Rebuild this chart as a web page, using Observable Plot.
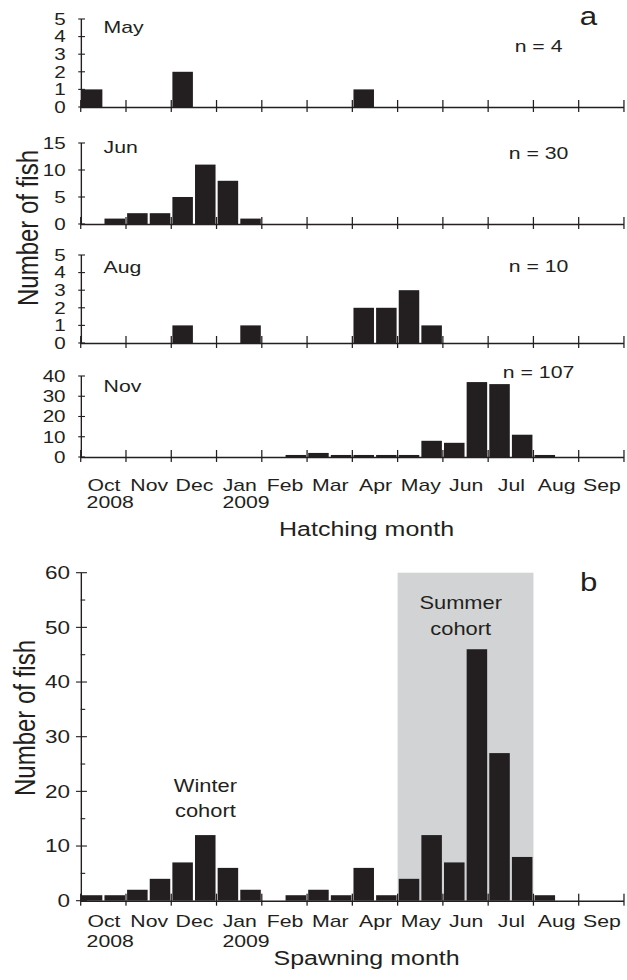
<!DOCTYPE html>
<html>
<head>
<meta charset="utf-8">
<script src="https://cdn.jsdelivr.net/npm/d3@7"></script>
<script src="https://cdn.jsdelivr.net/npm/@observablehq/plot@0.6"></script>
<style>
  html, body { margin: 0; padding: 0; background: #fff; }
  #fig { position: relative; width: 501.6px; height: 980px; transform: scaleX(1.25); transform-origin: 0 0;
         font-family: "Liberation Sans", Arial, Helvetica, sans-serif; color: #231f20; }
  #fig svg { position: absolute; left: 0; overflow: visible; }
  .ytitle { position: absolute; white-space: nowrap; font-size: 24px; line-height: 1;
            transform: translate(-50%, -50%) rotate(-90deg); }
</style>
</head>
<body>
<div id="fig"></div>
<script>
// ---------------- data ----------------
const months = ["Oct", "Nov", "Dec", "Jan", "Feb", "Mar", "Apr", "May", "Jun", "Jul", "Aug", "Sep"];
const years = [{label: "2008", month: "Oct"}, {label: "2009", month: "Jan"}];
// half-month bins: 1st half Oct 2008 ... 2nd half Sep 2009 (24 bins)
const hatchMay = [1,0,0,0,2,0,0,0,0,0,0,0,1,0,0,0,0,0,0,0,0,0,0,0];
const hatchJun = [0,1,2,2,5,11,8,1,0,0,0,0,0,0,0,0,0,0,0,0,0,0,0,0];
const hatchAug = [0,0,0,0,1,0,0,1,0,0,0,0,2,2,3,1,0,0,0,0,0,0,0,0];
const hatchNov = [0,0,0,0,0,0,0,0,0,1,2,1,1,1,1,8,7,37,36,11,1,0,0,0];
const spawning = [1,1,2,4,7,12,6,2,0,1,2,1,6,1,4,12,7,46,27,8,1,0,0,0];
const sampleMonths = ["May", "Jun", "Aug", "Nov"];
const sampleSizes = [4, 30, 10, 107];
const yTicksMay = [0,1,2,3,4,5];
const yTicksJun = [0,5,10,15];
const yTicksAug = [0,1,2,3,4,5];
const yTicksNov = [0,10,20,30,40];
const yTicksB = [0,10,20,30,40,50,60];
const yMinorB = [5,15,25,35,45,55];
const summerCohort = {from: "May", to: "Jul"};

// ---------------- layout ----------------
const INK = "#231f20";
const SHADE = "#d1d3d4";
const FONT = '"Liberation Sans", Arial, Helvetica, sans-serif';
const S = 1.25;                 // horizontal stretch of the original figure
const W = 627 / S;
const AX_L = 80.7 / S, AX_R = 624 / S;
const PX_PER_MONTH = (AX_R - AX_L) / 12;
const fig = document.getElementById("fig");

const bins = vals => vals.map((v, i) => ({start: i / 2, end: i / 2 + 0.5, v})).filter(d => d.v > 0);
const monthEdges = d3.range(months.length + 1);

function panel({top, height, yTop, yBase, yMax, marks}) {
  const ms = marks((yBase - yTop) / yMax);
  const svg = Plot.plot({
    width: W, height,
    marginLeft: AX_L, marginRight: W - AX_R,
    marginTop: yTop - top, marginBottom: top + height - yBase,
    x: {type: "linear", domain: [0, 12], axis: null},
    y: {type: "linear", domain: [0, yMax], axis: null},
    style: {fontFamily: FONT, overflow: "visible", background: "transparent", color: INK},
    marks: ms
  });
  svg.style.top = top + "px";
  fig.appendChild(svg);
}

// ppu: pixels per y unit (to express tick lengths in pixels)
function barsAndAxes(ppu, vals, yMax, ticks, tickFont, tickDx, tickIn, tickOut) {
  return [
    Plot.rect(bins(vals), {x1: "start", x2: "end", y1: 0, y2: "v", fill: INK, insetLeft: 0.9, insetRight: 0.8}),
    Plot.ruleY([0], {stroke: INK, strokeWidth: 1.5}),
    Plot.ruleX([0], {y1: 0, y2: yMax, stroke: INK, strokeWidth: 1.1}),
    // month tick marks crossing the baseline (thin filled rects)
    Plot.rect(monthEdges, {x1: d => d, x2: d => d, y1: () => -5 / ppu, y2: () => 7 / ppu,
                           insetLeft: -0.5, insetRight: -0.5, fill: INK}),
    // y tick marks crossing the axis
    Plot.rect(ticks, {x1: () => -tickOut / PX_PER_MONTH, x2: () => tickIn / PX_PER_MONTH, y1: d => d, y2: d => d,
                      insetTop: -0.55, insetBottom: -0.55, fill: INK}),
    Plot.text(ticks, {x: 0, y: d => d, text: d => String(d), textAnchor: "end", lineAnchor: "middle", dx: tickDx, fontSize: tickFont, fill: INK})
  ];
}

function label(txt, dy) {
  return Plot.text([txt], {text: d => d, frameAnchor: "top-left", dx: 17.8, dy, textAnchor: "start", lineAnchor: "middle", fontSize: 17, fill: INK});
}
function nLabel(n, dy) {
  return Plot.text([`n = ${n}`], {text: d => d, frameAnchor: "top-left", dx: 365.8, dy, textAnchor: "middle", lineAnchor: "middle", fontSize: 17, fill: INK});
}
function monthAxisLabels(dyMonth, dyYear, title, dyTitle) {
  return [
    Plot.text(months, {x: (d, i) => i + 0.5, y: 0, dy: dyMonth, text: d => d, lineAnchor: "middle", fontSize: 17, fill: INK}),
    Plot.text(years, {x: d => months.indexOf(d.month) + 0.5, y: 0, dx: 5, dy: dyYear, text: "label", lineAnchor: "middle", fontSize: 17, fill: INK}),
    Plot.text([title], {x: 6.3, y: 0, dy: dyTitle, text: d => d, lineAnchor: "middle", fontSize: 20, fill: INK})
  ];
}

// ---------------- panel a ----------------
panel({top: 0, height: 115, yTop: 19, yBase: 107, yMax: 5, marks: ppu => [
  ...barsAndAxes(ppu, hatchMay, 5, yTicksMay, 16.5, -12.6, 3.4, 2),
  label(sampleMonths[0], 8),
  nLabel(sampleSizes[0], 27),
  Plot.text(["a"], {text: d => d, frameAnchor: "top-left", dx: 405.8, dy: -3, textAnchor: "middle", lineAnchor: "middle", fontSize: 25, fill: INK})
]});
panel({top: 115, height: 120, yTop: 143, yBase: 224, yMax: 15, marks: ppu => [
  ...barsAndAxes(ppu, hatchJun, 15, yTicksJun, 16.5, -12.6, 3.4, 2),
  label(sampleMonths[1], 4),
  nLabel(sampleSizes[1], 10)
]});
panel({top: 235, height: 115, yTop: 255, yBase: 343, yMax: 5, marks: ppu => [
  ...barsAndAxes(ppu, hatchAug, 5, yTicksAug, 16.5, -12.6, 3.4, 2),
  label(sampleMonths[2], 12),
  nLabel(sampleSizes[2], 11)
]});
panel({top: 350, height: 195, yTop: 376, yBase: 457, yMax: 40, marks: ppu => [
  ...barsAndAxes(ppu, hatchNov, 40, yTicksNov, 16.5, -12.6, 3.4, 2),
  label(sampleMonths[3], 10),
  nLabel(sampleSizes[3], -4),
  ...monthAxisLabels(28, 45, "Hatching month", 72)
]});

// ---------------- panel b ----------------
panel({top: 550, height: 430, yTop: 572.7, yBase: 900.7, yMax: 60, marks: ppu => [
  Plot.rect([summerCohort], {x1: d => months.indexOf(d.from), x2: d => months.indexOf(d.to) + 1, y1: 0, y2: 60, fill: SHADE}),
  ...barsAndAxes(ppu, spawning, 60, yTicksB, 18, -9, 5, 3.8),
  Plot.rect(yMinorB, {x1: () => 0, x2: () => 3.6 / PX_PER_MONTH, y1: d => d, y2: d => d,
                      insetTop: -0.55, insetBottom: -0.55, fill: INK}),
  Plot.text(["Summer\ncohort"], {text: d => d, x: 8.38, frameAnchor: "top", dy: 40.5, lineAnchor: "middle", lineHeight: 1.45, fontSize: 17.5, fill: INK}),
  Plot.text(["Winter\ncohort"], {text: d => d, x: 2.74, frameAnchor: "top", dy: 223.5, lineAnchor: "middle", lineHeight: 1.45, fontSize: 17.5, fill: INK}),
  Plot.text(["b"], {text: d => d, frameAnchor: "top-left", dx: 405.8, dy: 9.5, textAnchor: "middle", lineAnchor: "middle", fontSize: 25, fill: INK}),
  ...monthAxisLabels(20, 40, "Spawning month", 57)
]});

// ---------------- y-axis titles ----------------
function yTitle(x, y) {
  const t = document.createElement("div");
  t.className = "ytitle";
  t.textContent = "Number of fish";
  t.style.left = x + "px";
  t.style.top = y + "px";
  fig.appendChild(t);
}
yTitle(28 / S, 228);
yTitle(25 / S, 718);
</script>
</body>
</html>
